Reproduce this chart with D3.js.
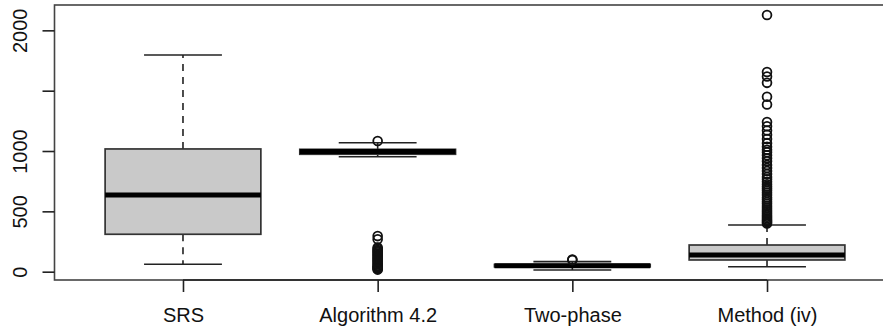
<!DOCTYPE html>
<html>
<head>
<meta charset="utf-8">
<script src="https://cdn.jsdelivr.net/npm/d3@7"></script>
<style>
  body { margin: 0; background: #fff; }
  svg text { font-family: "Liberation Sans", Arial, Helvetica, sans-serif; }
</style>
</head>
<body>
<svg id="chart" width="883" height="332"></svg>
<script>

/*========================================
	Data
========================================*/

var categories = ["SRS", "Algorithm 4.2", "Two-phase", "Method (iv)"];

var lowerWhisker = [61, 953, 14, 41];
var q1 = [310, 973, 40, 97];
var median = [635, 995, 50, 138];
var q3 = [1017, 1014, 60, 221];
var upperWhisker = [1796, 1069, 83, 387];

var outliersSRS = [];
var outliersAlg = [1083, 295, 268, 200, 190, 180, 170, 160, 150, 140, 130, 120, 110,
	100, 90, 80, 70, 60, 50, 42, 35, 28, 22, 17];
var outliersTwo = [100, 96];
var outliersMeth = [2127, 1655, 1618, 1565, 1450, 1385, 1240, 1205, 1170, 1135, 1100,
	1065, 1035, 1010, 990, 965, 940, 915, 885, 860, 835, 810, 785, 765, 745, 725, 705,
	690, 672, 655, 635, 615, 598, 580, 562, 545, 528, 512, 497, 482, 468, 455, 442,
	430, 420, 410, 400];
var outliers = [outliersSRS, outliersAlg, outliersTwo, outliersMeth];

var yTicks = [0, 500, 1000, 1500, 2000];
var yTickLabels = ["0", "500", "1000", "", "2000"];

/*========================================
	Scales
========================================*/

var svg = d3.select("#chart");

// R style: xlim 0.5..4.5 plus 4% either side, ylim data range plus 4%
var x = d3.scaleLinear().domain([0.34, 4.66]).range([54.5, 895.5]);
var y = d3.scaleLinear().domain([-69, 2210]).range([280, 5]);

var boxHalf = 0.4;
var stapleHalf = 0.2;

/*========================================
	Boxes
========================================*/

var plot = svg.append("g");

categories.forEach(function(name, i){
	var c = i + 1;

	// whiskers (dashed)
	plot.append("line")
		.attr("x1", x(c)).attr("x2", x(c))
		.attr("y1", y(q3[i])).attr("y2", y(upperWhisker[i]))
		.attr("stroke", "#222").attr("stroke-width", 1.6)
		.attr("stroke-dasharray", "7,6");
	plot.append("line")
		.attr("x1", x(c)).attr("x2", x(c))
		.attr("y1", y(q1[i])).attr("y2", y(lowerWhisker[i]))
		.attr("stroke", "#222").attr("stroke-width", 1.6)
		.attr("stroke-dasharray", "7,6");

	// staples
	[upperWhisker[i], lowerWhisker[i]].forEach(function(v){
		plot.append("line")
			.attr("x1", x(c - stapleHalf)).attr("x2", x(c + stapleHalf))
			.attr("y1", y(v)).attr("y2", y(v))
			.attr("stroke", "#222").attr("stroke-width", 1.6);
	});

	// box
	plot.append("rect")
		.attr("x", x(c - boxHalf))
		.attr("y", y(q3[i]))
		.attr("width", x(c + boxHalf) - x(c - boxHalf))
		.attr("height", y(q1[i]) - y(q3[i]))
		.attr("fill", "#c9c9c9")
		.attr("stroke", "#333").attr("stroke-width", 1.7);

	// median
	plot.append("line")
		.attr("x1", x(c - boxHalf)).attr("x2", x(c + boxHalf))
		.attr("y1", y(median[i])).attr("y2", y(median[i]))
		.attr("stroke", "#000").attr("stroke-width", 5);

	// outliers
	plot.selectAll(null)
		.data(outliers[i])
		.enter().append("circle")
		.attr("cx", x(c))
		.attr("cy", function(d){ return y(d); })
		.attr("r", 4.4)
		.attr("fill", "none")
		.attr("stroke", "#111").attr("stroke-width", 1.8);
});

/*========================================
	Frame + axes
========================================*/

svg.append("rect")
	.attr("x", x(0.34)).attr("y", y(2210))
	.attr("width", x(4.66) - x(0.34))
	.attr("height", y(-69) - y(2210))
	.attr("fill", "none")
	.attr("stroke", "#444").attr("stroke-width", 1.6);

var yAxis = svg.append("g")
	.attr("transform", "translate(" + x(0.34) + ",0)")
	.call(d3.axisLeft(y)
		.tickValues(yTicks)
		.tickFormat(function(d, i){ return yTickLabels[i]; })
		.tickSize(12)
		.tickSizeOuter(0));
yAxis.select(".domain").remove();
yAxis.selectAll(".tick line").attr("stroke", "#222").attr("stroke-width", 1.6);
yAxis.selectAll(".tick text")
	.attr("x", null).attr("dy", null)
	.attr("text-anchor", "middle")
	.attr("transform", "translate(-28,0) rotate(-90)")
	.attr("fill", "#111")
	.style("font-size", "20px");

var xAxis = svg.append("g")
	.attr("transform", "translate(0," + y(-69) + ")")
	.call(d3.axisBottom(x)
		.tickValues([1, 2, 3, 4])
		.tickFormat(function(d){ return categories[d - 1]; })
		.tickSize(12)
		.tickSizeOuter(0));
xAxis.select(".domain").remove();
xAxis.append("line")
	.attr("x1", x(1)).attr("x2", x(4))
	.attr("stroke", "#222").attr("stroke-width", 1.6);
xAxis.selectAll(".tick line").attr("stroke", "#222").attr("stroke-width", 1.6);
xAxis.selectAll(".tick text")
	.attr("y", 28).attr("dy", "0.71em")
	.attr("fill", "#111")
	.style("font-size", "20px");

</script>
</body>
</html>
